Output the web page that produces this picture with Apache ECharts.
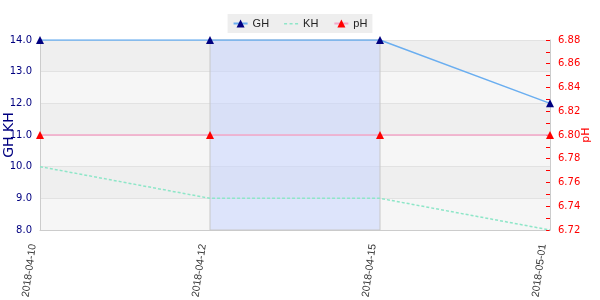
<!DOCTYPE html>
<html><head><meta charset="utf-8">
<script src="https://cdn.jsdelivr.net/npm/echarts@6/dist/echarts.min.js"></script>
<style>html,body{margin:0;padding:0;background:#fff}#c{width:600px;height:300px}</style>
</head><body><div id="c"></div>
<script>
const dates = ['2018-04-10','2018-04-12','2018-04-15','2018-05-01'];
const ghValues = [14, 14, 14, 12];
const khValues = [10, 9, 9, 8];
const phValues = [6.8, 6.8, 6.8, 6.8];
const highlightRange = ['2018-04-12','2018-04-15'];

const dashIcon = 'path://M0,0M14,10M0,4.5h3v1.5h-3zM5.5,4.5h3v1.5h-3zM11,4.5h3v1.5h-3z';

const chart = echarts.init(document.getElementById('c'));
chart.setOption({
  animation: false,
  backgroundColor: '#fff',
  textStyle: { fontFamily: 'DejaVu Sans' },
  legend: {
    top: 14, left: 'center',
    backgroundColor: '#eee',
    padding: [4, 5],
    itemGap: 15,
    itemWidth: 14, itemHeight: 10,
    textStyle: { color: '#222', fontSize: 11, fontFamily: 'Liberation Sans' },
    data: [{ name: 'GH' }, { name: 'KH', icon: dashIcon }, { name: 'pH' }]
  },
  grid: { left: 40, right: 50, top: 40, bottom: 70, outerBoundsMode: 'none' },
  xAxis: {
    type: 'category', data: dates, boundaryGap: false,
    axisLine: { lineStyle: { color: '#ccc' } },
    axisTick: { show: false },
    axisLabel: { rotate: 82, color: '#333', fontSize: 10.5, fontFamily: 'Liberation Sans', margin: 15, verticalAlign: 'bottom', lineHeight: 14 }
  },
  yAxis: [{
    type: 'value', min: 8, max: 14, interval: 1,
    name: 'GH KH', nameLocation: 'middle', nameGap: 24, nameMoveOverlap: false,
    nameTextStyle: { color: '#000080', fontSize: 14 },
    axisLine: { show: true, lineStyle: { color: '#ccc' } },
    axisTick: { show: false },
    axisLabel: { color: '#000080', fontSize: 10, formatter: v => v.toFixed(1) },
    splitLine: { show: true, lineStyle: { color: '#e2e2e2' } },
    splitArea: { show: true, areaStyle: { color: ['#f6f6f6', '#efefef'] } }
  }, {
    type: 'value', min: 6.72, max: 6.88, interval: 0.02,
    name: 'pH', nameLocation: 'middle', nameGap: 31, nameRotate: 90, nameMoveOverlap: false,
    nameTextStyle: { color: '#ff0000', fontSize: 11 },
    axisLine: { show: true, lineStyle: { color: '#ccc' } },
    axisTick: { show: true, inside: true, length: 4, lineStyle: { color: '#ff0000' } },
    minorTick: { show: true, splitNumber: 2, length: 4, lineStyle: { color: '#ff0000' } },
    axisLabel: { color: '#ff0000', fontSize: 10, formatter: v => v.toFixed(2) },
    splitLine: { show: false }
  }],
  series: [{
    name: 'GH', type: 'line', data: ghValues, yAxisIndex: 0,
    symbol: 'triangle', symbolSize: 8,
    itemStyle: { color: '#000080' },
    lineStyle: { color: '#6aaef0', width: 1.5 },
    markArea: {
      silent: true,
      itemStyle: { color: 'rgba(196,210,255,0.5)', borderColor: '#c8c8c8', borderWidth: 1 },
      data: [[{ xAxis: highlightRange[0] }, { xAxis: highlightRange[1] }]]
    }
  }, {
    name: 'KH', type: 'line', data: khValues, yAxisIndex: 0,
    symbol: 'none',
    itemStyle: { color: '#8ee6c8' },
    lineStyle: { color: '#8ee6c8', width: 1.5, type: [3, 2] }
  }, {
    name: 'pH', type: 'line', data: phValues, yAxisIndex: 1,
    symbol: 'triangle', symbolSize: 8,
    itemStyle: { color: '#ff0000' },
    lineStyle: { color: '#f4a6c8', width: 1.5 }
  }]
});
</script></body></html>
